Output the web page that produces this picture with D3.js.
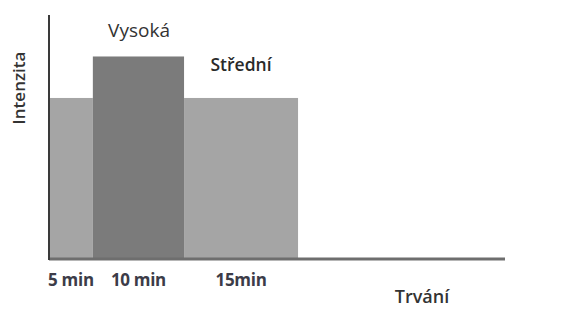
<!DOCTYPE html>
<html><head><meta charset="utf-8">
<script src="https://cdn.jsdelivr.net/npm/d3@7"></script>
<style>body{margin:0;background:#fff}</style>
</head><body><svg id="c" width="564" height="313"></svg>
<script>
const segments = ["5 min", "10 min", "15min"];
const durations = [5, 10.4, 13];
const intensity = [66, 83, 66];
const levelLabels = ["", "Vysoká", "Střední"];
const xMax = 52, yMax = 100;

const svg = d3.select("#c");
const m = {l: 49, r: 59, t: 15, b: 54};
const W = 564, H = 313;
const x = d3.scaleLinear().domain([0, xMax]).range([m.l, W - m.r]);
const y = d3.scaleLinear().domain([0, yMax]).range([H - m.b, m.t]);

let acc = 0;
const data = segments.map((s, i) => { const d = {label: s, x0: acc, x1: acc + durations[i], v: intensity[i], lvl: levelLabels[i]}; acc += durations[i]; return d; });
const fills = ["#a5a5a5", "#7b7b7b", "#a5a5a5"];
const font = "Open Sans, sans-serif";

svg.selectAll("rect.bar").data(data).join("rect").attr("class", "bar")
  .attr("x", d => x(d.x0)).attr("width", d => x(d.x1) - x(d.x0))
  .attr("y", d => y(d.v)).attr("height", d => y(0) - y(d.v))
  .attr("fill", (d, i) => fills[i]);

// axes
svg.append("line").attr("x1", x(0)).attr("x2", x(xMax)).attr("y1", y(0)).attr("y2", y(0))
  .attr("stroke", "#6e6e6e").attr("stroke-width", 3);
svg.append("line").attr("x1", x(0)).attr("x2", x(0)).attr("y1", y(yMax)).attr("y2", y(0) + 1)
  .attr("stroke", "#3a3a3a").attr("stroke-width", 2);

// tick labels
svg.selectAll("text.tick").data(data).join("text").attr("class", "tick")
  .attr("x", d => (x(d.x0) + x(d.x1)) / 2).attr("y", 286)
  .attr("text-anchor", "middle").attr("font-family", font)
  .attr("font-weight", "bold").attr("font-size", 17).attr("fill", "#3c3c48")
  .attr("letter-spacing", -0.3)
  .text(d => d.label);

// level labels
svg.append("text").attr("x", 139).attr("y", 37)
  .attr("text-anchor", "middle").attr("font-family", font)
  .attr("font-size", 19).attr("fill", "#333").text(data[1].lvl);
svg.append("text").attr("x", 241).attr("y", 71)
  .attr("text-anchor", "middle").attr("font-family", font)
  .attr("font-weight", "600").attr("font-size", 17.5).attr("fill", "#2a2a2a").text(data[2].lvl);

// axis titles
svg.append("text").attr("transform", "translate(25,88) rotate(-90)")
  .attr("text-anchor", "middle").attr("font-family", font)
  .attr("font-weight", "600").attr("font-size", 17).attr("fill", "#333").text("Intenzita");
svg.append("text").attr("x", 422).attr("y", 303)
  .attr("text-anchor", "middle").attr("font-family", font)
  .attr("font-weight", "600").attr("font-size", 18).attr("fill", "#333").text("Trvání");
</script></body></html>
